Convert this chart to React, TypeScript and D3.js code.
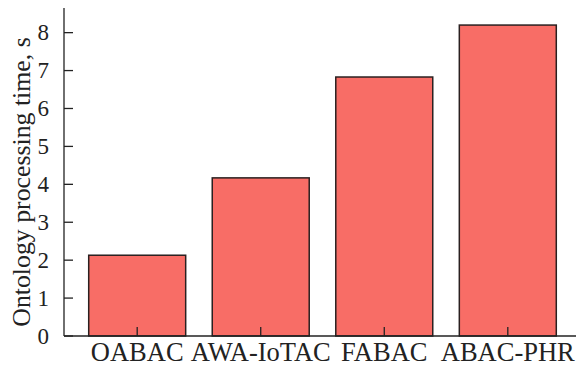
import React from "react";
import * as d3 from "d3";

const categories = ["OABAC", "AWA-IoTAC", "FABAC", "ABAC-PHR"];
const times = [2.13, 4.17, 6.83, 8.2];
const yTicks = [0, 1, 2, 3, 4, 5, 6, 7, 8];

const W = 576;
const H = 366;
const left = 64;
const top = 8;
const bottom = 336;
const right = 581;

export default function App() {
  const x = d3
    .scaleBand<string>()
    .domain(categories)
    .range([left, right])
    .paddingInner(0.215)
    .paddingOuter(0.2);
  const y = d3.scaleLinear().domain([0, 8.65]).range([bottom, top]);
  const font = "'Liberation Serif', 'Times New Roman', serif";

  return (
    <svg
      width={W}
      height={H}
      style={{ position: "absolute", left: 0, top: 0, background: "#fff" }}
      fontFamily={font}
    >
      {categories.map((c, i) => (
        <g key={c}>
          <rect
            x={x(c)!}
            y={y(times[i])}
            width={x.bandwidth()}
            height={y(0) - y(times[i])}
            fill="#f86d66"
            stroke="#2a2020"
            strokeWidth={1.5}
          />
          <line
            x1={x(c)! + x.bandwidth() / 2}
            x2={x(c)! + x.bandwidth() / 2}
            y1={y(0)}
            y2={y(0) - 9}
            stroke="#222"
            strokeWidth={1.3}
          />
          <text
            x={x(c)! + x.bandwidth() / 2}
            y={361}
            textAnchor="middle"
            fontSize={26.5}
            fill="#222"
          >
            {c}
          </text>
        </g>
      ))}
      {yTicks.map((t) => (
        <g key={t}>
          <line x1={left} x2={left + 9} y1={y(t)} y2={y(t)} stroke="#222" strokeWidth={1.3} />
          <text x={49} y={y(t)} dy="0.34em" textAnchor="end" fontSize={23} fill="#222">
            {t}
          </text>
        </g>
      ))}
      <line x1={left} x2={left} y1={top} y2={bottom} stroke="#222" strokeWidth={1.3} />
      <line x1={left} x2={W} y1={bottom} y2={bottom} stroke="#222" strokeWidth={1.3} />
      <text
        transform={`translate(30, 182) rotate(-90)`}
        textAnchor="middle"
        fontSize={25.8}
        fill="#222"
      >
        Ontology processing time, s
      </text>
    </svg>
  );
}
